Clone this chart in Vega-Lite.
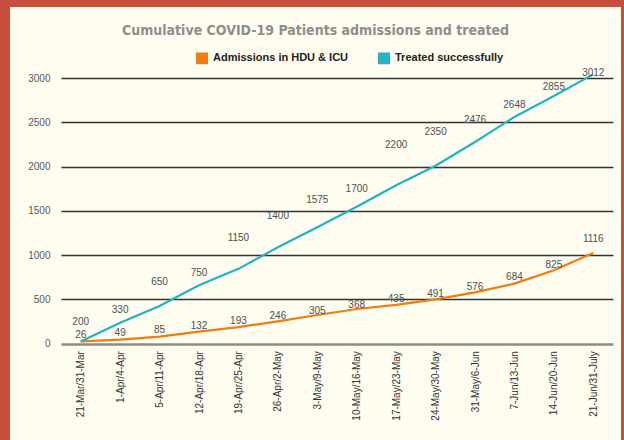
{
  "$schema": "https://vega.github.io/schema/vega-lite/v6.json",
  "width": 611,
  "height": 433,
  "autosize": {"type": "none"},
  "padding": {"left": 10, "top": 7, "right": 3, "bottom": 0},
  "background": "#C5503E",
  "title": {
    "text": "Cumulative COVID-19 Patients admissions and treated",
    "font": "DejaVu Sans Condensed",
    "fontSize": 14,
    "fontWeight": "bold",
    "color": "#8E8E8E",
    "anchor": "middle",
    "offset": -31
  },
  "config": {
    "view": {"fill": "#FEFDF0", "stroke": null},
    "font": "Liberation Sans"
  },
  "data": {
    "values": [
      {"week": "21-Mar/31-Mar", "series": "Admissions in HDU & ICU", "value": 26, "label": 26},
      {"week": "1-Apr/4-Apr", "series": "Admissions in HDU & ICU", "value": 45, "label": 49},
      {"week": "5-Apr/11-Apr", "series": "Admissions in HDU & ICU", "value": 79, "label": 85},
      {"week": "12-Apr/18-Apr", "series": "Admissions in HDU & ICU", "value": 136, "label": 132},
      {"week": "19-Apr/25-Apr", "series": "Admissions in HDU & ICU", "value": 188, "label": 193},
      {"week": "26-Apr/2-May", "series": "Admissions in HDU & ICU", "value": 253, "label": 246},
      {"week": "3-May/9-May", "series": "Admissions in HDU & ICU", "value": 324, "label": 305},
      {"week": "10-May/16-May", "series": "Admissions in HDU & ICU", "value": 392, "label": 368},
      {"week": "17-May/23-May", "series": "Admissions in HDU & ICU", "value": 438, "label": 435},
      {"week": "24-May/30-May", "series": "Admissions in HDU & ICU", "value": 501, "label": 491},
      {"week": "31-May/6-Jun", "series": "Admissions in HDU & ICU", "value": 580, "label": 576},
      {"week": "7-Jun/13-Jun", "series": "Admissions in HDU & ICU", "value": 678, "label": 684},
      {"week": "14-Jun/20-Jun", "series": "Admissions in HDU & ICU", "value": 829, "label": 825},
      {"week": "21-Jun/31-July", "series": "Admissions in HDU & ICU", "value": 1024, "label": 1116},
      {"week": "21-Mar/31-Mar", "series": "Treated successfully", "value": 26, "label": 200},
      {"week": "1-Apr/4-Apr", "series": "Treated successfully", "value": 237, "label": 330},
      {"week": "5-Apr/11-Apr", "series": "Treated successfully", "value": 425, "label": 650},
      {"week": "12-Apr/18-Apr", "series": "Treated successfully", "value": 660, "label": 750},
      {"week": "19-Apr/25-Apr", "series": "Treated successfully", "value": 845, "label": 1150},
      {"week": "26-Apr/2-May", "series": "Treated successfully", "value": 1088, "label": 1400},
      {"week": "3-May/9-May", "series": "Treated successfully", "value": 1315, "label": 1575},
      {"week": "10-May/16-May", "series": "Treated successfully", "value": 1546, "label": 1700},
      {"week": "17-May/23-May", "series": "Treated successfully", "value": 1790, "label": 2200},
      {"week": "24-May/30-May", "series": "Treated successfully", "value": 2010, "label": 2350},
      {"week": "31-May/6-Jun", "series": "Treated successfully", "value": 2278, "label": 2476},
      {"week": "7-Jun/13-Jun", "series": "Treated successfully", "value": 2560, "label": 2648},
      {"week": "14-Jun/20-Jun", "series": "Treated successfully", "value": 2797, "label": 2855},
      {"week": "21-Jun/31-July", "series": "Treated successfully", "value": 3041, "label": 3012}
    ]
  },
  "encoding": {
    "x": {
      "field": "week",
      "type": "ordinal",
      "sort": null,
      "scale": {"type": "point", "range": [51, 603], "padding": 0.5},
      "axis": {
        "title": null,
        "labelAngle": -90,
        "domain": false,
        "ticks": false,
        "grid": false,
        "labelPadding": 7,
        "offset": -96.3,
        "labelColor": "#333333",
        "labelFontSize": 10,
        "labelFont": "Liberation Sans"
      }
    }
  },
  "layer": [
    {
      "mark": {"type": "line", "strokeWidth": 2.2},
      "encoding": {
        "y": {
          "field": "value",
          "type": "quantitative",
          "title": null,
          "scale": {"domain": [0, 3000], "range": [336.7, 71], "nice": false, "zero": false},
          "axis": {
            "title": null,
            "values": [0, 500, 1000, 1500, 2000, 2500, 3000],
            "format": "d",
            "domain": false,
            "ticks": false,
            "labelPadding": 5,
            "offset": -45,
            "labelColor": "#5A5A5A",
            "labelFontSize": 10,
            "labelFont": "Liberation Sans",
            "grid": true,
            "gridColor": {"condition": {"test": "datum.value === 0", "value": "#8C8C84"}, "value": "#333333"},
            "gridWidth": {"condition": {"test": "datum.value === 0", "value": 2.5}, "value": 1.3}
          }
        },
        "color": {
          "field": "series",
          "type": "nominal",
          "scale": {"domain": ["Admissions in HDU & ICU", "Treated successfully"], "range": ["#EF7D0F", "#23B4C1"]},
          "legend": {
            "title": null,
            "orient": "none",
            "legendX": 186,
            "legendY": 45,
            "direction": "horizontal",
            "symbolType": "square",
            "symbolSize": 110,
            "labelFontSize": 11,
            "labelFont": "Liberation Sans",
            "labelFontWeight": "bold",
            "labelColor": "#222222",
            "columnPadding": 26,
            "labelOffset": 5,
            "encode": {"symbols": {"update": {"fill": {"scale": "color", "field": "value"}, "stroke": {"value": "transparent"}}}}
          }
        }
      }
    },
    {
      "transform": [{"filter": "datum.series === 'Admissions in HDU & ICU'"}],
      "mark": {"type": "text", "dy": -6, "fontSize": 10, "font": "Liberation Sans", "color": "#505050", "baseline": "middle"},
      "encoding": {
        "y": {"field": "label", "type": "quantitative", "title": null},
        "text": {"field": "label", "type": "quantitative", "format": "d"}
      }
    },
    {
      "transform": [{"filter": "datum.series === 'Treated successfully'"}],
      "mark": {"type": "text", "dy": -4, "fontSize": 10, "font": "Liberation Sans", "color": "#505050", "baseline": "middle"},
      "encoding": {
        "y": {"field": "label", "type": "quantitative", "title": null},
        "text": {"field": "label", "type": "quantitative", "format": "d"}
      }
    }
  ]
}
